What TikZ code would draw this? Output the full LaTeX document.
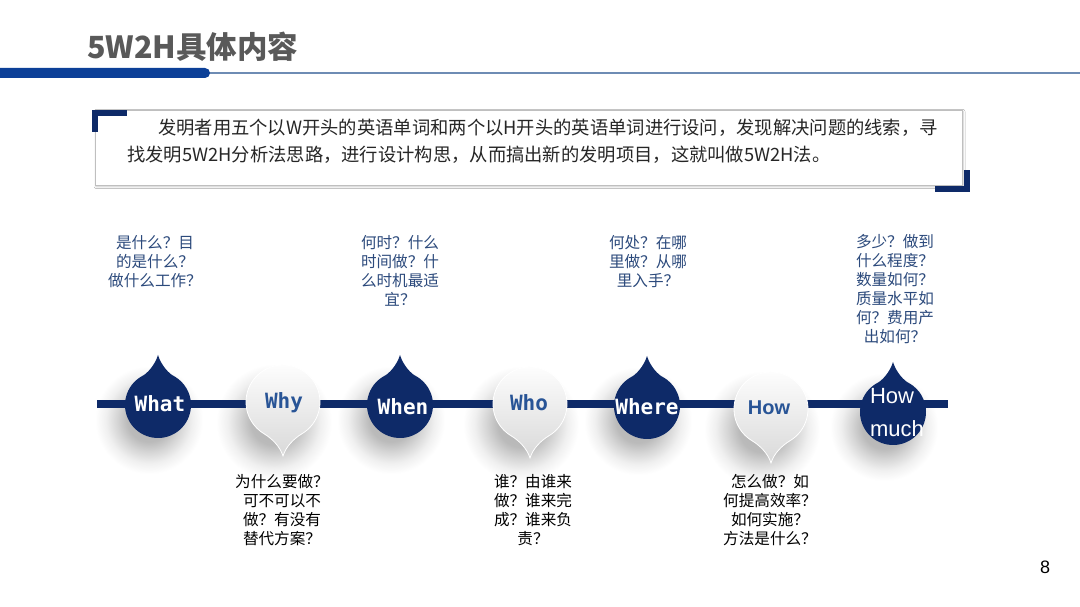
\documentclass[tikz,border=0pt]{standalone}
\usepackage{fontspec}
\setmainfont{Liberation Sans}
\newfontfamily\cjk{Noto Sans CJK SC}
\newfontfamily\mono{DejaVu Sans Mono}
\usetikzlibrary{shadows.blur}
\definecolor{navy}{RGB}{14,42,104}
\definecolor{barblue}{RGB}{12,64,152}
\definecolor{thinblue}{RGB}{110,140,180}
\definecolor{qblue}{RGB}{44,74,124}
\definecolor{wordblue}{RGB}{40,84,150}
\definecolor{titlegray}{RGB}{89,89,89}
\definecolor{bodytext}{RGB}{38,38,38}
\pgfdeclareradialshading{softshadow}{\pgfpoint{0bp}{0bp}}{%
  color(0bp)=(black!30); color(10bp)=(black!27); color(15bp)=(black!16);
  color(20bp)=(black!6); color(25bp)=(white); color(50bp)=(white)}
\tikzset{
  updrop/.pic={
    \path[fill=navy] (0,50) .. controls (-3,40) and (-11,31) .. (120:33pt)
      arc[start angle=120, end angle=420, radius=33pt]
      .. controls (11,31) and (3,40) .. (0,50) -- cycle;
  },
  downdrop/.pic={
    \path[top color=white, bottom color=gray!30, draw=white, line width=0.8pt]
      (0,-54) .. controls (3,-44) and (12,-36) .. (-60:37pt)
      arc[start angle=-60, end angle=240, radius=37pt]
      .. controls (-12,-36) and (-3,-44) .. (0,-54) -- cycle;
  },
  monoword/.style={font=\mono\bfseries\fontsize{21}{21}\selectfont, inner sep=0pt},
  sansword/.style={font=\fontsize{22}{33}\selectfont, inner sep=0pt, align=left},
  upq/.style={font=\cjk\fontsize{15.6}{19}\selectfont, text=qblue, align=center, inner sep=0pt},
  downq/.style={font=\cjk\fontsize{15.6}{19}\selectfont, text=black, align=center, inner sep=0pt},
}
\begin{document}
\begin{tikzpicture}[x=1pt, y=1pt]
\useasboundingbox (0,0) rectangle (1080,607);
\fill[white] (0,0) rectangle (1080,607);

% title and header bar
\node[anchor=west, inner sep=0pt, text=titlegray, font=\cjk\bfseries\fontsize{30.5}{30.5}\selectfont] (title) at (87,560) {5W2H具体内容};
\coordinate (barend) at (205,534);
\coordinate (lineend) at (1080,534);
\draw[thinblue, line width=1.2pt] (barend) -- (lineend);
\fill[barblue, rounded corners=5pt] (-10,529) rectangle (210,539);

% text box
\node[draw=gray!50, line width=0.8pt, fill=white, minimum width=867pt, minimum height=75pt, inner sep=0pt,
      blur shadow={shadow xshift=1pt, shadow yshift=-1.5pt, shadow blur radius=2pt, shadow opacity=25}] (box) at (528.5,459.5) {};
\draw[navy, line width=6pt] (95,475) -- (95,494) -- (127,494);
\draw[navy, line width=6pt] (935,418) -- (967,418) -- (967,437);
\node[anchor=north west, align=left, inner sep=0pt, text=bodytext, font=\cjk\fontsize{18.3}{27}\selectfont] (intro) at (127,488)
  {\hspace*{31pt}发明者用五个以W开头的英语单词和两个以H开头的英语单词进行设问，发现解决问题的线索，寻\\找发明5W2H分析法思路，进行设计构思，从而搞出新的发明项目，这就叫做5W2H法。};

% soft shadows under the drops
\foreach \sx/\sy/\sr in {149/187/54, 274/185/58, 391/187/54, 521/183/58, 638/186/54, 762/178/58, 884/180/54}
  \shade[shading=softshadow] (\sx,\sy) circle (\sr pt);

% timeline
\coordinate (L) at (97,203);
\coordinate (R) at (948,203);
\draw[navy, line width=8pt] (L) -- (R);

% drops
\pic at (158,202) {updrop};
\pic at (283,205) {downdrop};
\pic at (400,202) {updrop};
\pic at (530,203) {downdrop};
\pic at (647,201) {updrop};
\pic at (771,198) {downdrop};
\pic at (893,195) {updrop};

% words
\node[monoword, text=white] (what) at (160,203) {What};
\node[monoword, text=wordblue] (why) at (284,204) {Why};
\node[monoword, text=white] (when) at (403,200) {When};
\node[monoword, text=wordblue] (who) at (529,204) {Who};
\node[monoword, text=white] (where) at (647,200) {Where};
\node[font=\bfseries\fontsize{20}{20}\selectfont, text=wordblue, inner sep=0pt] (how) at (769,199) {How};
\node[sansword, text=white] (howmuch) at (897,194) {How\\much};

% questions
\node[upq] (qwhat) at (155,345) {是什么？目\\的是什么？\\做什么工作？};
\node[upq] (qwhen) at (400,336.5) {何时？什么\\时间做？什\\么时机最适\\宜？};
\node[upq] (qwhere) at (648,345) {何处？在哪\\里做？从哪\\里入手？};
\node[upq] (qhowmuch) at (895,317.5) {多少？做到\\什么程度？\\数量如何？\\质量水平如\\何？费用产\\出如何？};
\node[downq] (qwhy) at (282,96.5) {为什么要做？\\可不可以不\\做？有没有\\替代方案？};
\node[downq] (qwho) at (533,96.5) {谁？由谁来\\做？谁来完\\成？谁来负\\责？};
\node[downq] (qhow) at (770,96.5) {怎么做？如\\何提高效率？\\如何实施？\\方法是什么？};

% page number
\node[font=\fontsize{18}{18}\selectfont, inner sep=0pt] (page) at (1045,40) {8};
\end{tikzpicture}
\end{document}
